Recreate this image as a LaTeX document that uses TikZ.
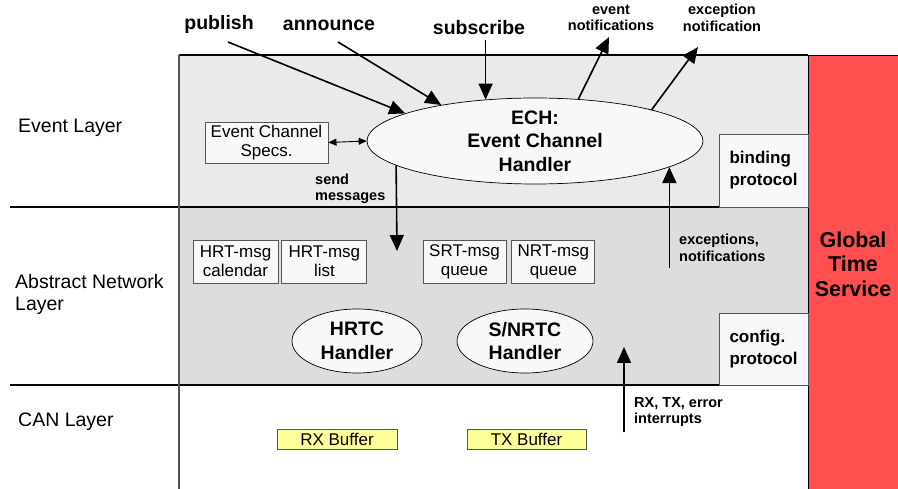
\documentclass[tikz,border=0pt]{standalone}
\usepackage{fontspec}
\setmainfont{Liberation Sans}
\usetikzlibrary{arrows.meta,positioning,shapes.geometric}
\definecolor{EvtGray}{HTML}{EAEAEA}
\definecolor{NetGray}{HTML}{DDDDDD}
\definecolor{BoxFill}{HTML}{F8F8F8}
\definecolor{BoxLine}{HTML}{555555}
\definecolor{TimeRed}{HTML}{FF4F4F}
\definecolor{BufYellow}{HTML}{FFFF99}

\begin{document}
\begin{tikzpicture}[x=1pt,y=-1pt,
  layerlbl/.style={anchor=west,inner sep=0pt,align=left,font=\fontsize{19.5}{22}\selectfont},
  msgbox/.style={draw=BoxLine,fill=BoxFill,line width=0.9pt,inner sep=0pt,minimum width=85,minimum height=43,align=center,font=\fontsize{17}{19}\selectfont},
  protobox/.style={draw=BoxLine,fill=BoxFill,line width=0.9pt,inner sep=0pt,minimum width=89,align=left,font=\bfseries\fontsize{17}{22}\selectfont},
  bufbox/.style={draw=BoxLine,fill=BufYellow,line width=0.9pt,inner sep=0pt,minimum width=120,minimum height=20,font=\fontsize{17}{19}\selectfont},
  handler/.style={ellipse,draw=black,fill=BoxFill,line width=0.7pt,inner sep=0pt},
  handlertxt/.style={inner sep=0pt,align=center,font=\bfseries\fontsize{19.5}{23.5}\selectfont},
  bigtxt/.style={inner sep=0pt,font=\bfseries\fontsize{19.5}{22}\selectfont},
  smalltxt/.style={inner sep=0pt,align=center,font=\bfseries\fontsize{14.5}{16.5}\selectfont},
  bigarrow/.style={line width=1.6pt,-{Triangle[length=16pt,width=14pt]}}]
\useasboundingbox (0,0) rectangle (898,489);

% layer backgrounds
\fill[EvtGray] (179,55) rectangle (808,207);
\fill[NetGray] (179,207) rectangle (808,385);
\draw[black,line width=0.8pt,fill=TimeRed] (808,55) rectangle (898,489);
\draw[line width=1.1pt] (179,55) -- (808,55);
\draw[line width=1.3pt] (10,207) -- (808,207);
\draw[line width=1.3pt] (10,385) -- (808,385);
\draw[BoxLine,line width=1.5pt] (179,55) -- (179,489);

% layer names
\node[layerlbl] (evtlayer) at (18,128) {Event Layer};
\node[layerlbl] (netlayer) at (15,294) {Abstract Network\\Layer};
\node[layerlbl] (canlayer) at (18,422) {CAN Layer};

% event layer
\node[handler,minimum width=336,minimum height=86] (ech) at (535,141) {};
\node[handlertxt] (echtxt) at (ech) {ECH:\\Event Channel\\Handler};
\node[msgbox,minimum width=123,minimum height=41] (specs) at (266.5,142.5) {Event Channel\\Specs.};
\draw[line width=0.9pt,{Triangle[length=8pt,width=7pt]}-{Triangle[length=8pt,width=7pt]}] (specs.east) -- (ech.west);
\node[protobox,minimum height=73] (binding) at (763.5,170.5) {binding\\protocol};

% abstract network layer
\node[msgbox] (hrtcal) at (235.5,261.5) {HRT-msg\\calendar};
\node[msgbox,right=3 of hrtcal] (hrtlist) {HRT-msg\\list};
\node[msgbox,minimum width=83] (srtq) at (464.5,261.5) {SRT-msg\\queue};
\node[msgbox,minimum width=83,right=5 of srtq] (nrtq) {NRT-msg\\queue};
\node[handler,minimum width=130,minimum height=64] (hrtc) at (357,341) {};
\node[handlertxt] (hrtctxt) at (hrtc) {HRTC\\Handler};
\node[handler,minimum width=136,minimum height=64] (snrtc) at (525,341) {};
\node[handlertxt] (snrtctxt) at (snrtc) {S/NRTC\\Handler};
\node[protobox,minimum height=72] (config) at (763.5,349) {config.\\protocol};

% CAN layer
\node[bufbox] (rxbuf) at (337,439) {RX Buffer};
\node[bufbox,minimum width=119] (txbuf) at (526.5,439) {TX Buffer};

% global time
\node[inner sep=0pt,align=center,font=\bfseries\fontsize{21.5}{24.5}\selectfont] (gts) at (853,264) {Global\\Time\\Service};

% interface labels
\node[bigtxt] (publish) at (219,24) {publish};
\node[bigtxt] (announce) at (329,25) {announce};
\node[bigtxt] (subscribe) at (479,28) {subscribe};
\node[smalltxt] (evnotif) at (611,18) {event\\notifications};
\node[smalltxt] (exnotif) at (722,18) {exception\\notification};
\node[smalltxt,anchor=west,align=left] (sendmsg) at (315,189) {send\\messages};
\node[smalltxt,anchor=west,align=left] (excnotif) at (679,248) {exceptions,\\notifications};
\node[smalltxt,anchor=west,align=left] (irq) at (634,412) {RX, TX, error\\interrupts};

\coordinate (evtip) at (609,37);
\coordinate (extip) at (698,47);
\coordinate (sendend) at (397,251);
\coordinate (excstart) at (669,268);
\coordinate (irqstart) at (624,432);
\coordinate (irqend) at (624,347);

% connectors
\draw[bigarrow] (228,42) -- (ech.168);
\draw[bigarrow] (338,42) -- (ech.159);
\draw[bigarrow] (ech.140 |- subscribe.south) ++(0,5) -- (ech.140);
\draw[bigarrow] (ech.44) -- (evtip);
\draw[bigarrow] (ech.15) -- (extip);
\draw[bigarrow] (ech.190) -- (sendend);
\draw[bigarrow] (ech.-11 |- excstart) -- (ech.-11);
\draw[bigarrow] (irqstart) -- (irqend);
\end{tikzpicture}
\end{document}
